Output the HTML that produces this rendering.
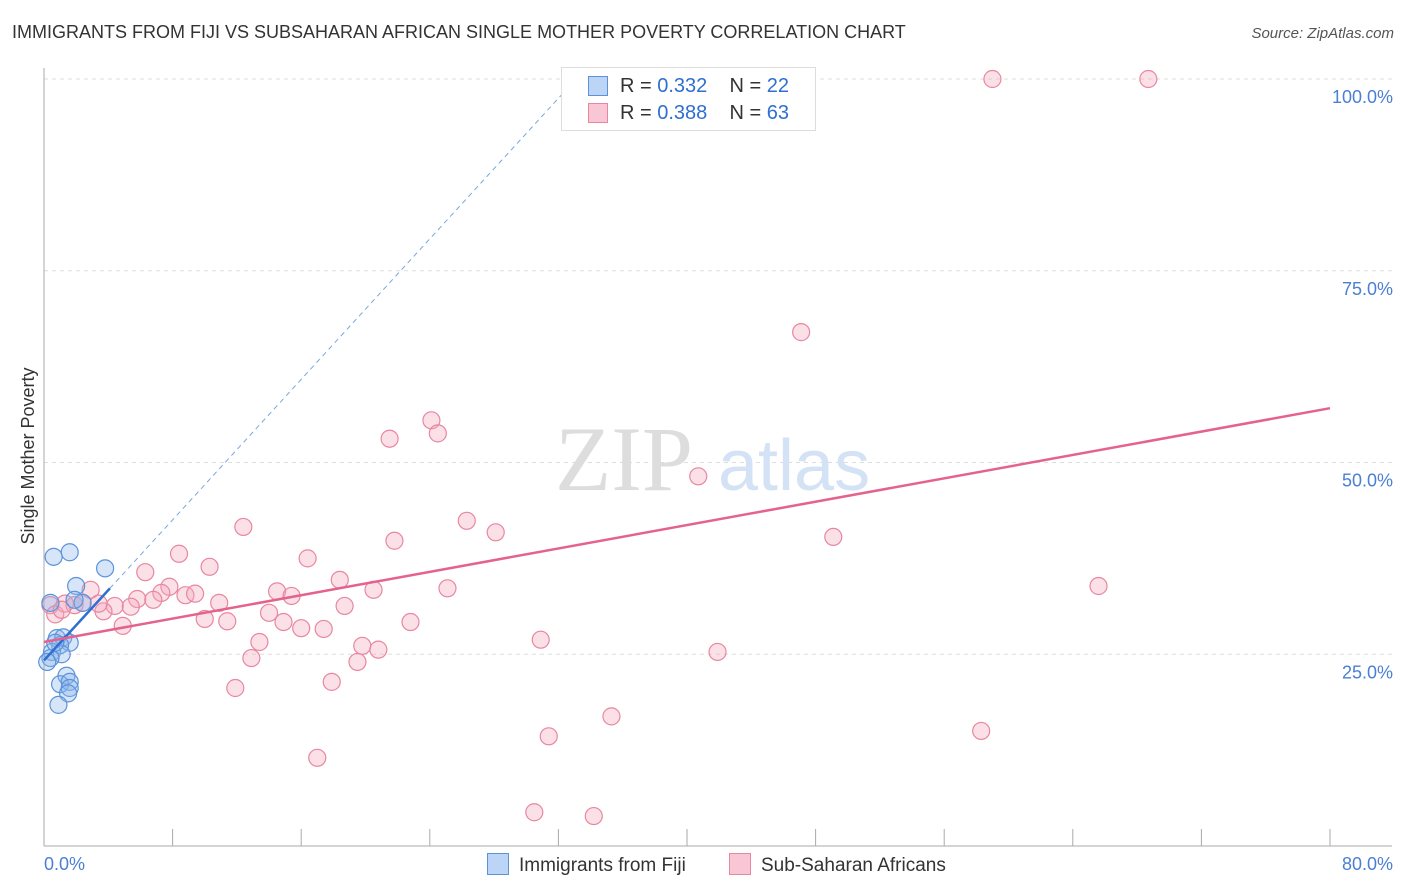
<!DOCTYPE html>
<html><head><meta charset="utf-8">
<style>
body{margin:0;background:#fff;font-family:"Liberation Sans",sans-serif;}
#wrap{position:relative;width:1406px;height:892px;overflow:hidden;}
.t{position:absolute;white-space:nowrap;}
</style></head>
<body>
<div id="wrap">
<div class="t" style="left:12px;top:22px;font-size:18px;color:#333;">IMMIGRANTS FROM FIJI VS SUBSAHARAN AFRICAN SINGLE MOTHER POVERTY CORRELATION CHART</div>
<div class="t" style="right:12px;top:25px;font-size:15px;color:#555;font-style:italic;">Source: ZipAtlas.com</div>
<svg id="svg" width="1406" height="892" style="position:absolute;left:0;top:0"></svg>
</div>
<script>
const yTicks=[25,50,75,100];
const yTickLabels=["25.0%","50.0%","75.0%","100.0%"];
const xTickLabels=["0.0%","80.0%"];
const fijiX=[0.6,1.6,3.8,2.0,2.4,0.4,0.8,1.2,1.6,1.0,0.5,1.1,0.4,0.2,1.4,1.0,1.6,1.6,1.5,0.9,1.9,0.7];
const fijiY=[37.7,38.3,36.2,33.9,31.7,31.7,27.1,27.2,26.5,26.2,25.3,25.0,24.5,24.0,22.2,21.1,21.4,20.6,19.9,18.4,32.1,26.5];
const afrX=[59.0,68.7,47.1,24.1,24.5,21.5,40.7,26.3,28.1,49.1,12.4,21.8,8.4,16.4,6.3,10.3,65.6,2.9,7.8,7.3,5.8,8.8,9.4,14.5,18.4,20.5,25.1,15.4,6.8,10.9,4.4,5.4,3.7,18.7,14.0,10.0,11.4,14.9,22.8,4.9,16.0,17.4,13.4,30.9,19.8,20.8,41.9,12.9,19.5,11.9,17.9,35.3,31.4,58.3,17.0,30.5,34.2,0.4,0.7,1.3,1.9,2.4,3.4,1.1];
const afrY=[100,100,67.0,55.5,53.8,53.1,48.2,42.4,40.9,40.3,41.6,39.8,38.1,37.5,35.7,36.4,33.9,33.4,33.8,33.0,32.2,32.7,32.9,33.2,34.7,33.4,33.6,32.6,32.1,31.7,31.3,31.2,30.6,31.3,30.4,29.6,29.3,29.2,29.2,28.7,28.4,28.3,26.6,26.9,26.1,25.6,25.3,24.5,24.0,20.6,21.4,16.9,14.3,15.0,11.5,4.4,3.9,31.4,30.2,31.6,31.4,31.7,31.6,30.8];
const fijiTrend=[24.2,2.29]; // intercept, slope
const afrTrend=[26.6,0.381];

const X=v=>44+v*16.075, Y=v=>846-v*7.67;
const svg=document.getElementById('svg');
const NS='http://www.w3.org/2000/svg';
function mk(tag,attrs,parent){const e=document.createElementNS(NS,tag);for(const k in attrs)e.setAttribute(k,attrs[k]);(parent||svg).appendChild(e);return e;}
// grid
yTicks.forEach((t,i)=>{
 const g=mk('line',{x1:44,x2:1392,y1:Y(t),y2:Y(t),stroke:'#ddd','stroke-dasharray':'4,4'});
 
 
 const tx=mk('text',{x:1393,y:Y(t)+24,'text-anchor':'end','font-size':18,fill:'#4a7fd4','font-family':'Liberation Sans'});
 tx.textContent=yTickLabels[i];
 
 
});
const ax=mk('line',{x1:44,x2:44,y1:68,y2:846,stroke:'#aaa'});


const bx=mk('line',{x1:44,x2:1392,y1:846,y2:846,stroke:'#aaa'});


for(let i=1;i<=10;i++){
 const tk=mk('line',{x1:X(i*8),x2:X(i*8),y1:829,y2:846,stroke:'#aaa'});
 
 
}
[[0,'start',44],[80,'end',1393]].forEach((d,i)=>{
 const tx=mk('text',{x:d[2],y:870,'text-anchor':d[1],'font-size':18,fill:'#4a7fd4','font-family':'Liberation Sans'});
 tx.textContent=xTickLabels[i];
 
 
});
const yt=mk('text',{x:34,y:456,transform:'rotate(-90 34 456)','text-anchor':'middle','font-size':18,fill:'#333','font-family':'Liberation Sans'});
yt.textContent='Single Mother Poverty';


// watermark
const wm=mk('text',{x:555,y:490,'font-size':92,fill:'#ddd','font-family':'Liberation Serif'});
wm.textContent='ZIP';


const wm2=mk('text',{x:718,y:490,'font-size':72,fill:'#d4e2f5','font-family':'Liberation Sans'});
wm2.textContent='atlas';


// points
afrX.forEach((x,i)=>{
 const c=mk('circle',{cx:X(x),cy:Y(afrY[i]),r:8.5,fill:'rgba(244,165,190,0.35)',stroke:'#e8879f','stroke-width':1.2});
 
 
});
fijiX.forEach((x,i)=>{
 const c=mk('circle',{cx:X(x),cy:Y(fijiY[i]),r:8.5,fill:'rgba(140,180,235,0.35)',stroke:'#5b93db','stroke-width':1.2});
 
 
});
// trends
const xEnd=(100-fijiTrend[0])/fijiTrend[1];
const d1=mk('line',{x1:X(4.1),y1:Y(fijiTrend[0]+fijiTrend[1]*4.1),x2:X(xEnd),y2:Y(100),stroke:'#7aa6e0','stroke-width':1,'stroke-dasharray':'5,4'});


const l1=mk('line',{x1:X(0),y1:Y(fijiTrend[0]),x2:X(4.1),y2:Y(fijiTrend[0]+fijiTrend[1]*4.1),stroke:'#2f6fd0','stroke-width':2.5});


const l2=mk('line',{x1:X(0),y1:Y(afrTrend[0]),x2:X(80),y2:Y(afrTrend[0]+afrTrend[1]*80),stroke:'#e4628d','stroke-width':2.5});


</script>
<div class="t" style="left:561px;top:67px;width:253px;height:62px;border:1px solid #ddd;background:#fff;font-size:20px;color:#333;">
 <div style="position:absolute;left:26px;top:8px;width:18px;height:18px;background:#bcd4f5;border:1px solid #5b93db;"></div>
 <div style="position:absolute;left:58px;top:7px;">R = <span style="color:#2f6fd0">0.332</span>&nbsp;&nbsp;&nbsp; N = <span style="color:#2f6fd0">22</span></div>
 <div style="position:absolute;left:26px;top:35px;width:18px;height:18px;background:#f8c6d5;border:1px solid #e8879f;"></div>
 <div style="position:absolute;left:58px;top:34px;">R = <span style="color:#2f6fd0">0.388</span>&nbsp;&nbsp;&nbsp; N = <span style="color:#2f6fd0">63</span></div>
</div>
<div class="t" style="left:487px;top:853px;font-size:19px;color:#333;"><span style="display:inline-block;width:20px;height:20px;background:#bcd4f5;border:1px solid #5b93db;vertical-align:-4px;margin-right:10px;"></span>Immigrants from Fiji</div>
<div class="t" style="left:729px;top:853px;font-size:19px;color:#333;"><span style="display:inline-block;width:20px;height:20px;background:#f8c6d5;border:1px solid #e8879f;vertical-align:-4px;margin-right:10px;"></span>Sub-Saharan Africans</div>
</body></html>
